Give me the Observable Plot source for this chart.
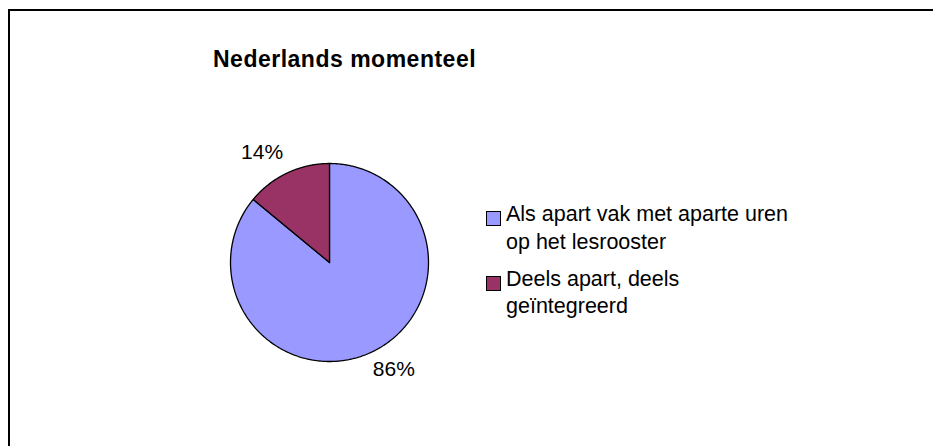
<!DOCTYPE html>
<html>
<head>
<meta charset="utf-8">
<script src="https://cdn.jsdelivr.net/npm/d3@7"></script>
<script src="https://cdn.jsdelivr.net/npm/@observablehq/plot@0.6"></script>
<style>
  html, body { margin: 0; padding: 0; background: #fff; overflow: hidden; }
  #wrap { position: relative; width: 933px; height: 446px; overflow: hidden; font-family: "Liberation Sans", Arial, sans-serif; color: #000; }
  #frame { position: absolute; left: 8px; top: 9px; width: 1200px; height: 1200px; border-left: 2px solid #000; border-top: 2px solid #000; }
  #title { position: absolute; left: 213px; top: 46px; font-size: 23px; font-weight: bold; letter-spacing: 0.5px; line-height: 26px; white-space: nowrap; }
  #chart { position: absolute; left: 0; top: 0; }
  .leg { position: absolute; left: 506px; width: 295px; font-size: 21.5px; line-height: 27.5px; }
  .sw { position: absolute; left: 486px; width: 13px; height: 13px; border: 1px solid #000; box-sizing: content-box; }
</style>
</head>
<body>
<div id="wrap">
  <div id="frame"></div>
  <div id="title"></div>
  <div id="chart"></div>
  <div id="legend"></div>
</div>
<script>
const title = "Nederlands momenteel";
const categories = ["Als apart vak met aparte uren op het lesrooster", "Deels apart, deels geïntegreerd"];
const values = [86, 14];
const colors = ["#9999FF", "#993366"];
const valueLabels = ["86%", "14%"];

document.getElementById("title").textContent = title;

// pie geometry from data (d3 angles: clockwise from 12 o'clock)
const arcs = d3.pie().sort(null)(values);
const slices = arcs.map((a, i) => {
  const pts = [{x: 0, y: 0}];
  const n = Math.max(2, Math.ceil((a.endAngle - a.startAngle) / (Math.PI / 360)));
  for (let k = 0; k <= n; k++) {
    const t = a.startAngle + (a.endAngle - a.startAngle) * k / n;
    pts.push({x: Math.sin(t), y: Math.cos(t)});
  }
  pts.push({x: 0, y: 0});
  return pts;
});

const labelMarks = arcs.map((a, i) => {
  const mid = (a.startAngle + a.endAngle) / 2;
  const r = 1.1;
  const d = [{x: Math.sin(mid) * r, y: Math.cos(mid) * r, t: valueLabels[i]}];
  const top = Math.cos(mid) > 0;
  return Plot.text(d, {
    x: "x", y: "y", text: "t",
    textAnchor: Math.sin(mid) < 0 ? "end" : "start",
    lineAnchor: top ? "bottom" : "top",
    dy: top ? -5 : 0,
    dx: top ? 0 : -3,
    fontSize: 21,
    fill: "#000",
    fontFamily: "Liberation Sans, Arial, sans-serif"
  });
});

const chart = Plot.plot({
  width: 933,
  height: 446,
  margin: 0,
  x: {type: "linear", domain: [-1, 1], range: [230, 428], axis: null},
  y: {type: "linear", domain: [-1, 1], range: [361, 163], axis: null},
  style: {background: "transparent", overflow: "visible"},
  marks: [
    ...slices.map((pts, i) => Plot.line(pts, {x: "x", y: "y", fill: colors[i], stroke: "#000", strokeWidth: 1.3, strokeLinejoin: "miter", curve: "linear"})),
    ...labelMarks
  ]
});
document.getElementById("chart").appendChild(chart);

// legend
const legend = document.getElementById("legend");
const legTops = [201, 265.7];
const swTops = [210.5, 276];
categories.forEach((c, i) => {
  const sw = document.createElement("div");
  sw.className = "sw";
  sw.style.top = swTops[i] + "px";
  sw.style.background = colors[i];
  legend.appendChild(sw);
  const t = document.createElement("div");
  t.className = "leg";
  t.style.top = legTops[i] + "px";
  t.textContent = c;
  legend.appendChild(t);
});
</script>
</body>
</html>
